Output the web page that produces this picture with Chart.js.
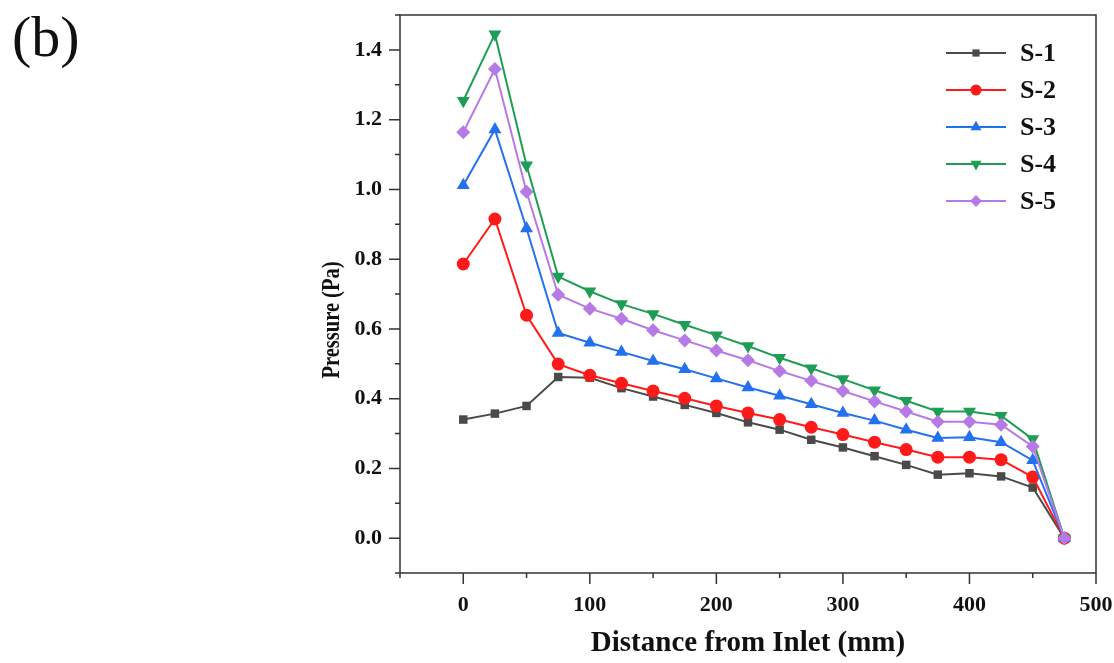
<!DOCTYPE html>
<html>
<head>
<meta charset="utf-8">
<script src="https://cdn.jsdelivr.net/npm/chart.js@4/dist/chart.umd.min.js"></script>
<style>
  html, body { margin:0; padding:0; background:#fff; }
  #wrap { position:relative; width:1114px; height:663px; }
  #tag { position:absolute; left:12px; top:8px; font-family:'Liberation Serif','Times New Roman',serif; font-size:58px; line-height:1; color:#111; }
</style>
</head>
<body>
<div id="wrap">
  <canvas id="chart" width="1114" height="663"></canvas>
  <div id="tag">(b)</div>
</div>
<script>
// distance from inlet (mm)
const xs = [0,25,50,75,100,125,150,175,200,225,250,275,300,325,350,375,400,425,450,475];
const seriesNames = ['S-1','S-2','S-3','S-4','S-5'];
const s1 = [0.340,0.357,0.379,0.462,0.460,0.430,0.406,0.382,0.359,0.332,0.311,0.282,0.260,0.235,0.210,0.182,0.186,0.177,0.145,0.0];
const s2 = [0.786,0.915,0.639,0.499,0.467,0.444,0.422,0.401,0.379,0.359,0.340,0.318,0.297,0.275,0.254,0.232,0.232,0.225,0.175,0.0];
const s3 = [1.012,1.172,0.888,0.588,0.560,0.534,0.508,0.484,0.458,0.432,0.408,0.384,0.359,0.337,0.311,0.287,0.289,0.275,0.223,0.0];
const s4 = [1.254,1.445,1.069,0.750,0.708,0.671,0.643,0.612,0.582,0.551,0.517,0.487,0.456,0.424,0.394,0.363,0.363,0.351,0.284,0.0];
const s5 = [1.164,1.345,0.993,0.698,0.658,0.629,0.596,0.567,0.538,0.510,0.479,0.451,0.422,0.392,0.363,0.334,0.334,0.325,0.263,0.0];
const allSeries = [s1,s2,s3,s4,s5];

// axis ticks (major get labels, minor are short marks)
const xMajor = [0,100,200,300,400,500];
const xMinor = [-50,50,150,250,350,450];
const yMajor = [0.0,0.2,0.4,0.6,0.8,1.0,1.2,1.4];
const yMinor = [-0.1,0.1,0.3,0.5,0.7,0.9,1.1,1.3,1.5];

const colors = ['#4a4a4a','#ff1a1a','#2471f0','#1e9e55','#b57ae6'];
const markers = [
  { style:'rect', radius:6, rotation:0 },
  { style:'circle', radius:6.5, rotation:0 },
  { style:'triangle', radius:7.5, rotation:0 },
  { style:'triangle', radius:7.5, rotation:180 },
  { style:'rectRot', radius:7, rotation:0 }
];

const serif = "'Liberation Serif','Times New Roman',serif";
const frameColor = '#333';

const datasets = allSeries.map((vals, i) => ({
  label: seriesNames[i],
  data: xs.map((x, j) => ({ x: x, y: vals[j] })),
  borderColor: colors[i],
  backgroundColor: colors[i],
  borderWidth: 2,
  pointStyle: markers[i].style,
  pointRadius: markers[i].radius,
  pointRotation: markers[i].rotation,
  pointBorderWidth: 0,
  pointBackgroundColor: colors[i],
  tension: 0,
  order: 4 - i
}));

// box around the plot area + outward ticks, long for major and short for minor
const framePlugin = {
  id: 'frame',
  afterDatasetsDraw(chart){
    const {ctx, chartArea:a, scales} = chart;
    ctx.save();
    ctx.strokeStyle = frameColor;
    ctx.lineWidth = 1.5;
    ctx.strokeRect(a.left, a.top, a.right - a.left, a.bottom - a.top);
    ctx.beginPath();
    const tick = (vals, len, isX) => vals.forEach(v => {
      if (isX) {
        const px = scales.x.getPixelForValue(v);
        ctx.moveTo(px, a.bottom); ctx.lineTo(px, a.bottom + len);
      } else {
        const py = scales.y.getPixelForValue(v);
        ctx.moveTo(a.left, py); ctx.lineTo(a.left - len, py);
      }
    });
    tick(xMajor, 11, true); tick(xMinor, 5, true);
    tick(yMajor, 11, false); tick(yMinor, 5, false);
    ctx.stroke();

    // y title, narrow like the original
    ctx.fillStyle = '#111';
    ctx.font = 'bold 25px ' + serif;
    ctx.textAlign = 'center';
    ctx.textBaseline = 'middle';
    ctx.translate(333, 320);
    ctx.rotate(-Math.PI / 2);
    ctx.scale(0.82, 1);
    ctx.fillText('Pressure (Pa)', 0, 0);
    ctx.restore();
  }
};

// legend: line sample with marker, like the original figure
const legendPlugin = {
  id: 'lineLegend',
  afterDraw(chart){
    const ctx = chart.ctx;
    const x0 = 946, x1 = 1006, tx = 1020, y0 = 53, dy = 37;
    ctx.save();
    seriesNames.forEach((name, i) => {
      const y = y0 + i * dy;
      ctx.strokeStyle = colors[i];
      ctx.fillStyle = colors[i];
      ctx.lineWidth = 2;
      ctx.beginPath(); ctx.moveTo(x0, y); ctx.lineTo(x1, y); ctx.stroke();
      Chart.helpers.drawPoint(ctx, {
        pointStyle: markers[i].style,
        radius: markers[i].radius * 0.85,
        rotation: markers[i].rotation,
        borderWidth: 0
      }, (x0 + x1) / 2, y);
      ctx.fillStyle = '#111';
      ctx.font = 'bold 26px ' + serif;
      ctx.textBaseline = 'middle';
      ctx.textAlign = 'left';
      ctx.fillText(name, tx, y + 1);
    });
    ctx.restore();
  }
};

new Chart(document.getElementById('chart'), {
  type: 'line',
  data: { datasets },
  options: {
    responsive: false,
    animation: false,
    layout: { padding: { left: 317, right: 18, top: 15, bottom: 2 } },
    plugins: { legend: { display: false }, tooltip: { enabled: false } },
    scales: {
      x: {
        type: 'linear',
        min: -50, max: 500,
        afterFit(s){ s.height = 88; s.paddingLeft = 0; s.paddingRight = 0; },
        border: { display: false },
        grid: { display: false },
        afterBuildTicks(s){ s.ticks = xMajor.map(v => ({ value: v })); },
        ticks: {
          padding: 11, color: '#111', maxRotation: 0, autoSkip: false,
          font: { family: serif, size: 22, weight: 'bold' },
          callback: v => String(v)
        },
        title: {
          display: true, text: 'Distance from Inlet (mm)', color: '#111',
          padding: { top: 0, bottom: 0 },
          font: { family: serif, size: 29, weight: 'bold' }
        }
      },
      y: {
        min: -0.1, max: 1.5,
        afterFit(s){ s.width = 83; s.paddingTop = 0; s.paddingBottom = 0; },
        border: { display: false },
        grid: { display: false },
        afterBuildTicks(s){ s.ticks = yMajor.map(v => ({ value: v })); },
        ticks: {
          padding: 10, color: '#111', autoSkip: false,
          font: { family: serif, size: 22, weight: 'bold' },
          callback: v => Number(v).toFixed(1)
        }
      }
    }
  },
  plugins: [framePlugin, legendPlugin]
});
</script>
</body>
</html>
